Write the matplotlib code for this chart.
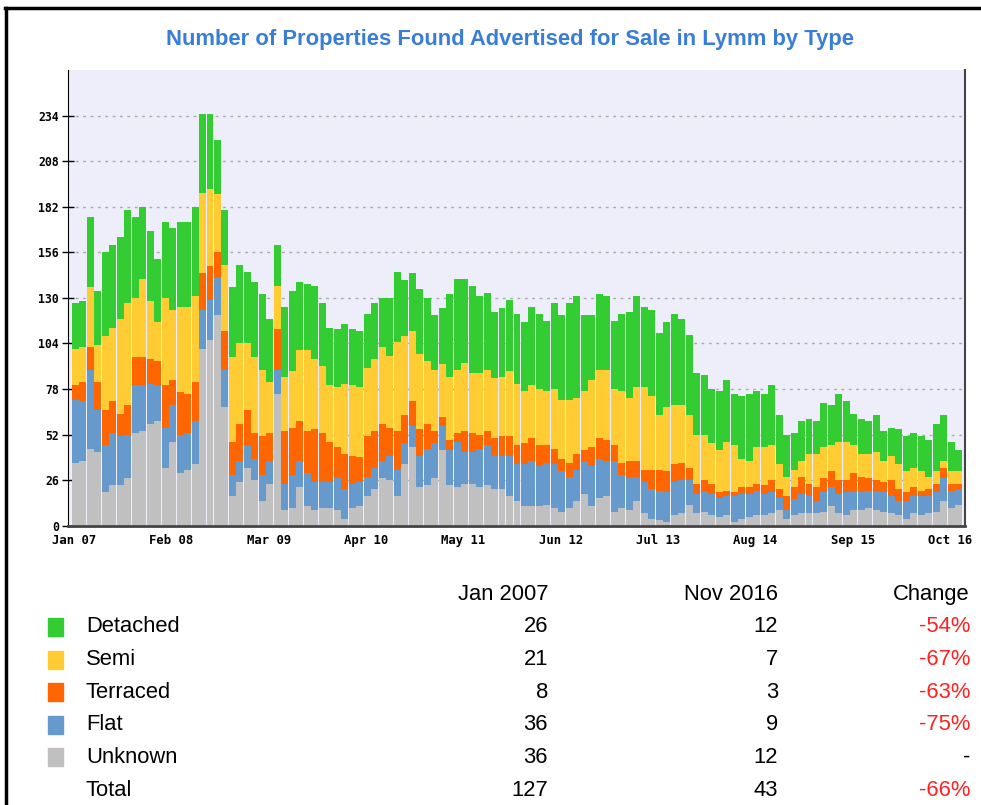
import matplotlib
matplotlib.use('Agg')
import matplotlib.pyplot as plt
from matplotlib.lines import Line2D
from matplotlib.patches import Rectangle
import numpy as np

# monthly counts, Jan 2007 .. Nov 2016
unknown = [36, 37, 44, 42, 19, 23, 23, 27, 53, 54, 58, 60, 33, 48, 30, 32, 35, 101, 106, 120,
           68, 17, 25, 33, 26, 14, 24, 75, 9, 10, 22, 11, 9, 10, 10, 9, 4, 10, 11, 17,
           21, 27, 26, 17, 35, 45, 22, 23, 27, 43, 23, 22, 24, 24, 22, 23, 21, 21, 17, 14,
           11, 11, 11, 12, 10, 8, 10, 14, 18, 11, 16, 17, 8, 10, 9, 14, 7, 4, 3, 2,
           6, 7, 12, 7, 8, 6, 5, 6, 2, 4, 5, 6, 6, 7, 9, 4, 6, 7, 7, 7,
           8, 11, 7, 6, 9, 9, 10, 9, 8, 7, 6, 4, 7, 6, 7, 8, 14, 10, 12]
flat = [36, 34, 45, 24, 27, 30, 28, 25, 27, 26, 23, 20, 23, 21, 22, 21, 25, 22, 23, 22,
        21, 12, 12, 13, 12, 15, 13, 14, 15, 19, 15, 19, 16, 15, 15, 18, 17, 14, 14, 11,
        12, 10, 14, 15, 12, 12, 18, 21, 20, 14, 20, 26, 18, 18, 22, 23, 19, 19, 23, 21,
        24, 26, 23, 24, 25, 23, 18, 18, 19, 23, 22, 20, 29, 19, 18, 14, 18, 17, 17, 17,
        19, 19, 14, 11, 12, 12, 11, 11, 15, 14, 13, 14, 12, 12, 7, 5, 9, 11, 10, 7,
        11, 11, 11, 13, 10, 10, 10, 11, 11, 10, 8, 10, 10, 11, 10, 11, 13, 10, 9]
terraced = [8, 11, 13, 16, 20, 18, 13, 17, 16, 16, 14, 14, 24, 14, 24, 22, 22, 21, 19, 14,
            22, 19, 21, 20, 15, 22, 16, 23, 30, 27, 23, 24, 30, 28, 23, 18, 20, 16, 14, 23,
            21, 21, 16, 22, 16, 14, 15, 14, 7, 5, 6, 5, 12, 11, 8, 8, 10, 11, 11, 11,
            12, 13, 12, 10, 9, 7, 8, 9, 6, 11, 12, 12, 9, 7, 10, 9, 7, 11, 12, 12,
            10, 10, 7, 6, 6, 6, 3, 3, 2, 4, 4, 4, 5, 7, 5, 8, 7, 10, 7, 8,
            8, 9, 8, 7, 11, 9, 7, 6, 6, 9, 7, 5, 5, 3, 4, 5, 6, 4, 3]
semi = [21, 20, 34, 21, 42, 42, 54, 58, 34, 45, 33, 22, 50, 40, 49, 50, 49, 46, 44, 33,
        38, 48, 46, 38, 43, 38, 29, 25, 31, 32, 40, 46, 40, 38, 32, 34, 40, 40, 40, 39,
        41, 44, 41, 51, 45, 40, 43, 36, 35, 30, 36, 36, 39, 34, 35, 35, 34, 34, 37, 35,
        30, 30, 32, 31, 34, 34, 36, 32, 34, 38, 39, 40, 32, 41, 36, 42, 47, 42, 31, 37,
        34, 33, 30, 28, 26, 23, 24, 28, 27, 16, 15, 21, 22, 20, 14, 11, 10, 9, 17, 19,
        18, 15, 22, 22, 16, 13, 14, 16, 12, 14, 14, 12, 11, 11, 7, 7, 4, 7, 7]
detached = [26, 26, 40, 31, 48, 47, 47, 53, 46, 41, 40, 36, 43, 47, 48, 48, 51, 45, 43, 31,
            31, 40, 45, 41, 43, 43, 36, 23, 40, 46, 39, 38, 42, 36, 33, 33, 34, 32, 32, 31,
            32, 28, 33, 40, 32, 33, 37, 36, 31, 32, 47, 52, 48, 50, 44, 44, 38, 39, 41, 40,
            39, 45, 43, 40, 49, 48, 55, 58, 43, 37, 43, 42, 39, 44, 49, 52, 46, 49, 47, 48,
            52, 49, 46, 35, 34, 31, 34, 35, 29, 36, 38, 32, 30, 34, 28, 24, 21, 23, 20, 19,
            25, 23, 27, 23, 18, 20, 19, 21, 17, 16, 20, 20, 20, 20, 21, 27, 26, 17, 12]

tick_labels = ['Jan 07', 'Feb 08', 'Mar 09', 'Apr 10', 'May 11',
               'Jun 12', 'Jul 13', 'Aug 14', 'Sep 15', 'Oct 16']

types = ['Detached', 'Semi', 'Terraced', 'Flat', 'Unknown']
jan2007 = [26, 21, 8, 36, 36]
nov2016 = [12, 7, 3, 9, 12]
change = ['-54%', '-67%', '-63%', '-75%', '-']
total_jan, total_nov, total_change = 127, 43, '-66%'

colors = {'Detached': '#33cc33', 'Semi': '#ffcc33', 'Terraced': '#ff6600',
          'Flat': '#6699cc', 'Unknown': '#c0c0c0'}

W, H = 981, 805
fig = plt.figure(figsize=(W / 100, H / 100), dpi=100)

# outer frame (top and left only visible)
fig.add_artist(Line2D([5 / W, 1], [1 - 8 / H, 1 - 8 / H], color='black', lw=2.5))
fig.add_artist(Line2D([6 / W, 6 / W], [0, 1 - 8 / H], color='black', lw=2.5))

fig.text(510 / W, 1 - 40 / H, 'Number of Properties Found Advertised for Sale in Lymm by Type',
         ha='center', va='center', fontsize=15.8, fontweight='bold', color='#3a7dd8',
         family='Liberation Sans')

ax = fig.add_axes([68 / W, 1 - 525.7 / H, (965 - 68) / W, (525.7 - 70) / H])
ax.set_facecolor('#eeeefa')

x = np.arange(len(detached))
bottom = np.zeros(len(x))
for name, vals in zip(['Unknown', 'Flat', 'Terraced', 'Semi', 'Detached'],
                      [unknown, flat, terraced, semi, detached]):
    ax.bar(x, vals, width=0.93, bottom=bottom, align='edge', color=colors[name],
           linewidth=0, zorder=2)
    bottom += np.array(vals)

ax.set_xlim(-0.5, 119.3)
ax.set_ylim(0, 260)
ax.set_yticks(range(0, 235, 26))
ax.yaxis.grid(True, linestyle=(0, (2, 3.3)), color='#aaaaaa', lw=1)
ax.set_axisbelow(True)

ax.set_xticks(np.arange(0, 118, 13) + 0.3)
ax.set_xticklabels(tick_labels)
ax.tick_params(axis='x', length=0, pad=6)
ax.tick_params(axis='y', direction='inout', length=9, width=1, pad=2)
for lab in ax.get_xticklabels():
    lab.set_family('DejaVu Sans Mono')
    lab.set_fontweight('bold')
    lab.set_fontsize(8.8)
for lab in ax.get_yticklabels():
    lab.set_family('DejaVu Sans Mono')
    lab.set_fontweight('bold')
    lab.set_fontsize(8.3)

ax.spines['top'].set_visible(False)
ax.spines['left'].set_color('black')
ax.spines['right'].set_color('#444444')
ax.spines['right'].set_linewidth(1.5)
ax.spines['bottom'].set_color('#444444')
ax.spines['bottom'].set_linewidth(2)

# table under the chart
fs = 15.8
font = 'Liberation Sans'
hy = 594
fig.text(548 / W, 1 - hy / H, 'Jan 2007', ha='right', va='center', fontsize=fs, family=font)
fig.text(778 / W, 1 - hy / H, 'Nov 2016', ha='right', va='center', fontsize=fs, family=font)
fig.text(970 / W, 1 - hy / H, 'Change', ha='right', va='center', fontsize=fs, family=font)

row_y = [627, 659.5, 692, 724.5, 757]
for t, a, b, c, yy in zip(types, jan2007, nov2016, change, row_y):
    fig.add_artist(Rectangle((48 / W, 1 - (yy + 9) / H), 15 / W, 18 / H,
                             transform=fig.transFigure, color=colors[t]))
    fig.text(86 / W, 1 - yy / H, t, ha='left', va='center', fontsize=fs, family=font)
    fig.text(548 / W, 1 - yy / H, str(a), ha='right', va='center', fontsize=fs, family=font)
    fig.text(778 / W, 1 - yy / H, str(b), ha='right', va='center', fontsize=fs, family=font)
    fig.text(970 / W, 1 - yy / H, c, ha='right', va='center', fontsize=fs, family=font,
             color='#ff2222' if c != '-' else 'black')

ty = 790
fig.text(86 / W, 1 - ty / H, 'Total', ha='left', va='center', fontsize=fs, family=font)
fig.text(548 / W, 1 - ty / H, str(total_jan), ha='right', va='center', fontsize=fs, family=font)
fig.text(778 / W, 1 - ty / H, str(total_nov), ha='right', va='center', fontsize=fs, family=font)
fig.text(970 / W, 1 - ty / H, total_change, ha='right', va='center', fontsize=fs, family=font,
         color='#ff2222')

fig.savefig('out.png', dpi=100)
